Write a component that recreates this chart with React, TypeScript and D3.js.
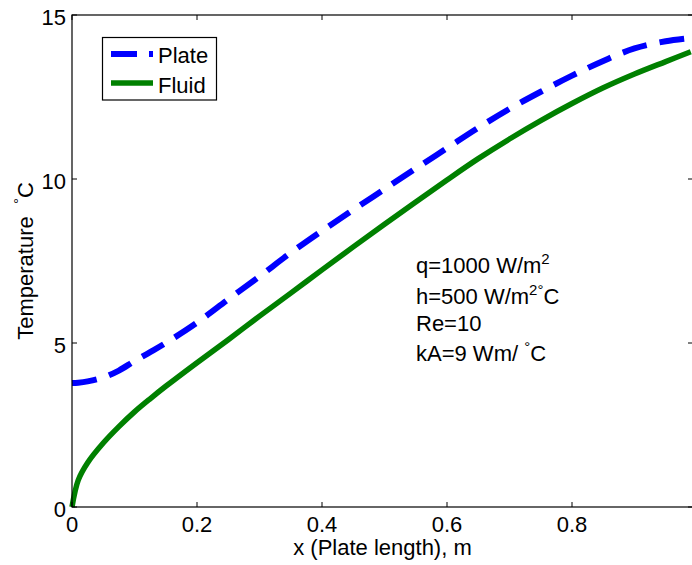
import React from "react";
import * as d3 from "d3";

// plate length positions (m)
const xPos = [0, 0.01, 0.025, 0.05, 0.075, 0.1, 0.125, 0.15, 0.2, 0.25, 0.3, 0.35, 0.4, 0.45, 0.5, 0.55, 0.6, 0.65, 0.7, 0.75, 0.8, 0.85, 0.9, 0.95, 0.99];
// temperatures (C)
const plateTemp = [3.78, 3.79, 3.83, 3.95, 4.16, 4.45, 4.72, 5.0, 5.62, 6.33, 7.03, 7.75, 8.42, 9.06, 9.69, 10.32, 10.94, 11.56, 12.14, 12.66, 13.15, 13.6, 13.98, 14.2, 14.3];
const fluidTemp = [0, 0.82, 1.35, 1.95, 2.45, 2.9, 3.3, 3.68, 4.4, 5.1, 5.82, 6.52, 7.23, 7.93, 8.62, 9.3, 9.97, 10.62, 11.22, 11.78, 12.3, 12.78, 13.2, 13.58, 13.88];

const xTicks = [0, 0.2, 0.4, 0.6, 0.8];
const yTicks = [0, 5, 10, 15];

const W = 692;
const H = 565;
const left = 72;
const right = 693;
const top = 15;
const bottom = 507;
const font = "'Liberation Sans', Arial, Helvetica, sans-serif";
const fs = 22;

export default function App() {
  const x = d3.scaleLinear().domain([0, 0.9936]).range([left, right]);
  const y = d3.scaleLinear().domain([0, 15]).range([bottom, top]);

  const line = d3
    .line<number>()
    .x((_, i) => x(xPos[i]))
    .y((d) => y(d))
    .curve(d3.curveCatmullRom.alpha(0.5));

  const tickLen = 5;

  return (
    <svg width={W} height={H} style={{ position: "absolute", left: 0, top: 0, background: "#fff" }}>
      <rect width={W} height={H} fill="#fff" />

      {/* curves */}
      <path d={line(fluidTemp) || ""} fill="none" stroke="#008000" strokeWidth={5.5} />
      <path
        d={line(plateTemp) || ""}
        fill="none"
        stroke="#0000ff"
        strokeWidth={6}
        strokeDasharray="25,13"
      />

      {/* axes box */}
      <rect x={left} y={top} width={right - left} height={bottom - top} fill="none" stroke="#000" strokeWidth={1.2} />

      {xTicks.map((t) => (
        <g key={"x" + t}>
          <line x1={x(t)} x2={x(t)} y1={bottom} y2={bottom - tickLen} stroke="#000" />
          <line x1={x(t)} x2={x(t)} y1={top} y2={top + tickLen} stroke="#000" />
          <text x={x(t)} y={532} textAnchor="middle" fontFamily={font} fontSize={fs} fill="#000">
            {t}
          </text>
        </g>
      ))}
      {yTicks.map((t) => (
        <g key={"y" + t}>
          <line x1={left} x2={left + tickLen} y1={y(t)} y2={y(t)} stroke="#000" />
          <line x1={right} x2={right - tickLen} y1={y(t)} y2={y(t)} stroke="#000" />
          <text x={66} y={y(t) + 10} textAnchor="end" fontFamily={font} fontSize={fs} fill="#000">
            {t}
          </text>
        </g>
      ))}

      {/* axis labels */}
      <text x={(left + right) / 2} y={555} textAnchor="middle" fontFamily={font} fontSize={fs} fill="#000">
        x (Plate length), m
      </text>
      <text transform="translate(33,261) rotate(-90)" textAnchor="middle" fontFamily={font} fontSize={fs} fill="#000">
        Temperature{"\u00a0\u00a0"}<tspan dy={-9} fontSize={15}>°</tspan>
        <tspan dy={9}>C</tspan>
      </text>

      {/* annotation */}
      <g fontFamily={font} fontSize={fs} fill="#000">
        <text x={416} y={273}>
          q=1000 W/m<tspan dy={-9} fontSize={15}>2</tspan>
        </text>
        <text x={416} y={304}>
          h=500 W/m<tspan dy={-9} fontSize={15}>2°</tspan>
          <tspan dy={9}>C</tspan>
        </text>
        <text x={416} y={331}>Re=10</text>
        <text x={416} y={361}>
          kA=9 Wm/ <tspan dy={-9} fontSize={15}>°</tspan>
          <tspan dy={9}>C</tspan>
        </text>
      </g>

      {/* legend */}
      <rect x={102.5} y={37.5} width={114} height={62.5} fill="#fff" stroke="#000" strokeWidth={1.2} />
      <line x1={111} x2={153} y1={54} y2={54} stroke="#0000ff" strokeWidth={6} strokeDasharray="26,12" />
      <line x1={111} x2={153} y1={83} y2={83} stroke="#008000" strokeWidth={5.5} />
      <text x={158} y={63} fontFamily={font} fontSize={fs} fill="#000">
        Plate
      </text>
      <text x={158} y={93} fontFamily={font} fontSize={fs} fill="#000">
        Fluid
      </text>
    </svg>
  );
}
